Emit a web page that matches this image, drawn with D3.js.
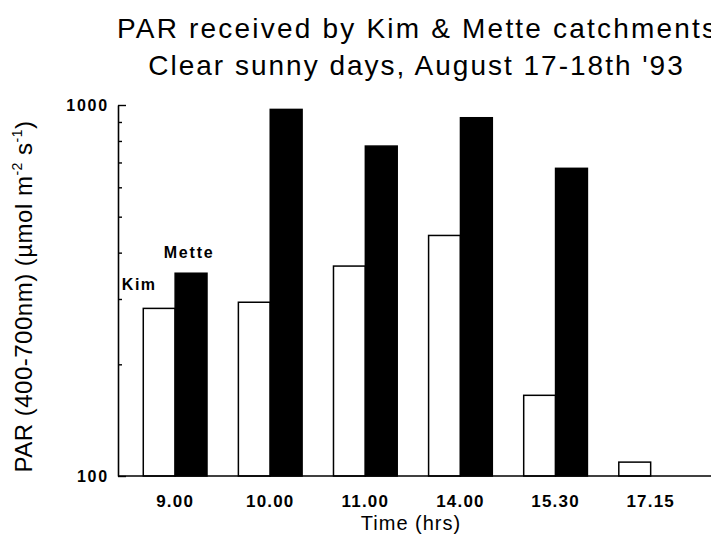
<!DOCTYPE html>
<html>
<head>
<meta charset="utf-8">
<script src="https://cdn.jsdelivr.net/npm/d3@7"></script>
<style>
  body { margin: 0; background: #fff; }
  svg { display: block; }
</style>
</head>
<body>
<svg id="chart" width="711" height="544"></svg>
<script>
// ---- data ----
const times = ["9.00", "10.00", "11.00", "14.00", "15.30", "17.15"];
const series = ["Kim", "Mette"];
const kimValues = [283, 294, 368, 445, 165, 109];
const metteValues = [352, 973, 775, 924, 675, null];
const yMajorTicks = [100, 1000];
const yMinorTicks = [200, 300, 400, 500, 600, 700, 800, 900];
const titleLines = ["PAR received by Kim & Mette catchments", "Clear sunny days, August 17-18th '93"];
const xTitle = "Time (hrs)";

// ---- layout ----
const svg = d3.select("#chart");
const W = 711, H = 544;
const axisX = 118, plotTop = 105, plotBottom = 476;
const font = "'Liberation Sans', Arial, Helvetica, sans-serif";

const y = d3.scaleLog().domain([100, 1000]).range([plotBottom, plotTop]);
const x = d3.scaleBand().domain(times).range([119.5, 706.3]).paddingInner(0.33).paddingOuter(0.25);
const xi = d3.scaleBand().domain(series).range([0, x.bandwidth()]);

const rows = times.map((t, i) => ({ t, Kim: kimValues[i], Mette: metteValues[i] }));

// ---- bars ----
const groups = svg.append("g").selectAll("g").data(rows).join("g")
  .attr("transform", d => `translate(${x(d.t)},0)`);
groups.selectAll("rect")
  .data(d => series.map(s => ({ s, v: d[s] })).filter(e => e.v != null))
  .join("rect")
  .attr("x", e => xi(e.s))
  .attr("y", e => y(e.v))
  .attr("width", xi.bandwidth())
  .attr("height", e => y(100) - y(e.v))
  .attr("fill", e => e.s === "Kim" ? "#fff" : "#000")
  .attr("stroke", "#000")
  .attr("stroke-width", 1.5);

// ---- y axis ----
const yAxisMajor = d3.axisLeft(y).tickValues(yMajorTicks).tickFormat(d3.format("d"))
  .tickSizeInner(-8).tickSizeOuter(0).tickPadding(9);
const gy = svg.append("g").attr("transform", `translate(${axisX},0)`).call(yAxisMajor);
gy.select(".domain").attr("stroke-width", 1.6);
gy.selectAll(".tick line").attr("stroke-width", 1.4);
gy.selectAll("text").attr("font-family", font).attr("font-size", 16).attr("font-weight", "bold")
  .attr("letter-spacing", 1.8).attr("fill", "#000");
const yAxisMinor = d3.axisLeft(y).tickValues(yMinorTicks).tickFormat("").tickSizeInner(-4).tickSizeOuter(0);
const gym = svg.append("g").attr("transform", `translate(${axisX},0)`).call(yAxisMinor);
gym.select(".domain").remove();
gym.selectAll(".tick line").attr("stroke-width", 1.4);

// ---- x axis ----
const xAxis = d3.axisBottom(x).tickSize(0).tickPadding(19);
const gx = svg.append("g").attr("transform", `translate(0,${plotBottom})`).call(xAxis);
gx.select(".domain").remove();
gx.selectAll("text").attr("font-family", font).attr("font-size", 17).attr("font-weight", "bold")
  .attr("letter-spacing", 1.2).attr("fill", "#000");
svg.append("line").attr("x1", axisX).attr("x2", W).attr("y1", plotBottom).attr("y2", plotBottom)
  .attr("stroke", "#000").attr("stroke-width", 1.6);

// ---- series labels ----
svg.append("text").attr("x", x(times[0]) + xi("Kim") - 20 + xi.bandwidth() / 2).attr("y", y(kimValues[0]) - 18)
  .attr("text-anchor", "middle").attr("font-family", font).attr("font-size", 16).attr("font-weight", "bold")
  .attr("letter-spacing", 1.5).text("Kim");
svg.append("text").attr("x", x(times[0]) + xi("Mette") - 2 + xi.bandwidth() / 2).attr("y", y(metteValues[0]) - 15)
  .attr("text-anchor", "middle").attr("font-family", font).attr("font-size", 16).attr("font-weight", "bold")
  .attr("letter-spacing", 1.8).text("Mette");

// ---- titles ----
svg.append("text").attr("x", 117).attr("y", 38).attr("font-family", font)
  .attr("font-size", 28).attr("letter-spacing", 2.2).attr("fill", "#000").text(titleLines[0]);
svg.append("text").attr("x", 416.5).attr("y", 75).attr("text-anchor", "middle").attr("font-family", font)
  .attr("font-size", 28).attr("letter-spacing", 2).attr("fill", "#000").text(titleLines[1]);

svg.append("text").attr("x", 411).attr("y", 530).attr("text-anchor", "middle")
  .attr("font-family", font).attr("font-size", 20).attr("letter-spacing", 1).text(xTitle);

const yl = svg.append("text").attr("transform", "translate(32,296.5) rotate(-90)")
  .attr("text-anchor", "middle").attr("font-family", font).attr("font-size", 24).attr("letter-spacing", 0.5);
yl.append("tspan").text("PAR (400-700nm) (µmol m");
yl.append("tspan").attr("font-size", 14).attr("dy", -10).text("-2");
yl.append("tspan").attr("dy", 10).text(" s");
yl.append("tspan").attr("font-size", 14).attr("dy", -10).text("-1");
yl.append("tspan").attr("dy", 10).text(")");
</script>
</body>
</html>
